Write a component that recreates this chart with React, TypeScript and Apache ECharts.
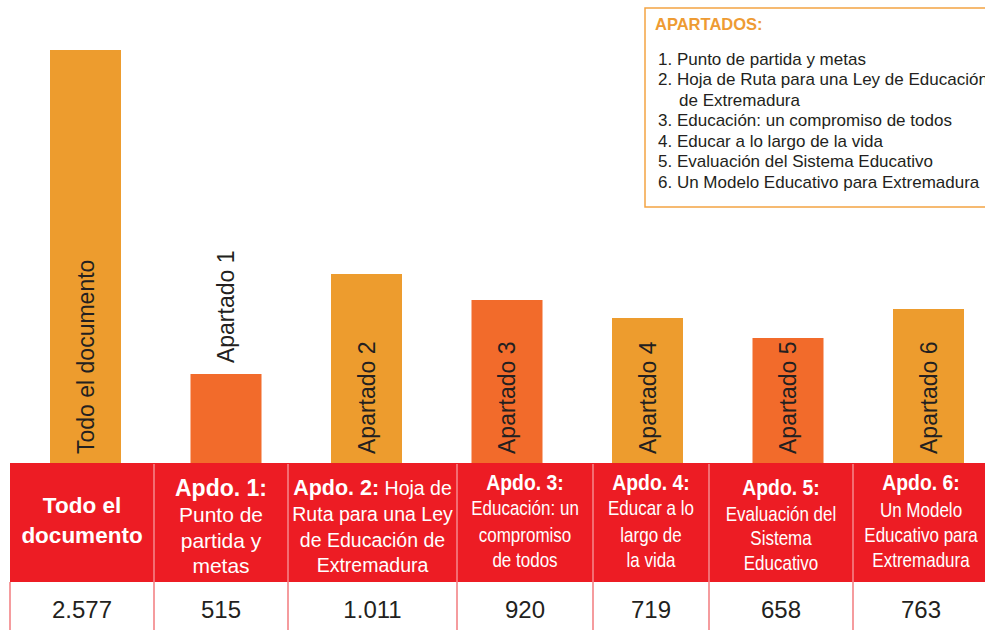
import React, { useEffect, useRef } from "react";
import * as echarts from "echarts";

// ---- data ----
const categories = [
  "Todo el documento",
  "Apartado 1",
  "Apartado 2",
  "Apartado 3",
  "Apartado 4",
  "Apartado 5",
  "Apartado 6",
];
// values printed in the table
const wordCounts = [2577, 515, 1011, 920, 719, 658, 763];
// bar heights as drawn in the reference (the original bars are not to scale)
const barHeights = [2577, 555, 1179, 1017, 905, 780, 961];

const headerLines = [
  ["**Todo el**", "**documento**"],
  ["**Apdo. 1:**", "Punto de", "partida y", "metas"],
  ["**Apdo. 2:** Hoja de", "Ruta para una Ley", "de Educación de", "Extremadura"],
  ["**Apdo. 3:**", "Educación: un", "compromiso", "de todos"],
  ["**Apdo. 4:**", "Educar a lo", "largo de", "la vida"],
  ["**Apdo. 5:**", "Evaluación del", "Sistema", "Educativo"],
  ["**Apdo. 6:**", "Un Modelo", "Educativo para", "Extremadura"],
];

const legendTitle = "APARTADOS:";
const legendLines = [
  "1. Punto de partida y metas",
  "2. Hoja de Ruta para una Ley de Educación",
  "de Extremadura",
  "3. Educación: un compromiso de todos",
  "4. Educar a lo largo de la vida",
  "5. Evaluación del Sistema Educativo",
  "6. Un Modelo Educativo para Extremadura",
];

// ---- style ----
const FONT = "'Liberation Sans', Arial, Helvetica, sans-serif";
const LIGHT = "#ED9C2E";
const DARK = "#F26B2B";
const RED = "#ED1C24";
const INK = "#231F20";

const colEdges = [10, 154, 288, 457, 593, 709, 853, 989];
const colLineY = [
  [505, 535],
  [488, 514, 540, 565],
  [488, 514, 540, 565],
  [482, 508, 535, 560],
  [482, 508, 535, 560],
  [487, 514, 538, 563],
  [482, 510, 535, 560],
];
// [bold size, bold scaleX, regular size, regular scaleX]
const colFont = [
  [22.5, 1, 22.5, 1],
  [23, 1, 21, 1],
  [21.5, 1, 19.5, 1],
  [22, 0.88, 21, 0.81],
  [22, 0.88, 21, 0.81],
  [22, 0.88, 21, 0.81],
  [22, 0.88, 21, 0.81],
];

function fmt(n: number): string {
  return String(n).replace(/\B(?=(\d{3})+(?!\d))/g, ".");
}

function toRich(line: string): { text: string; allBold: boolean } {
  const parts: string[] = [];
  const re = /\*\*(.+?)\*\*/g;
  let last = 0;
  let m: RegExpExecArray | null;
  let hasReg = false;
  while ((m = re.exec(line))) {
    if (m.index > last) {
      parts.push("{r|" + line.slice(last, m.index) + "}");
      hasReg = true;
    }
    parts.push("{b|" + m[1] + "}");
    last = m.index + m[0].length;
  }
  if (last < line.length) {
    parts.push("{r|" + line.slice(last) + "}");
    hasReg = true;
  }
  return { text: parts.join(""), allBold: !hasReg };
}

export default function App() {
  const ref = useRef<HTMLDivElement>(null);

  useEffect(() => {
    if (!ref.current) return;
    const chart = echarts.init(ref.current, undefined, { renderer: "svg" });

    const graphics: any[] = [];

    // header band
    graphics.push({
      type: "rect",
      shape: { x: colEdges[0], y: 463, width: 985 - colEdges[0] + 10, height: 119 },
      style: { fill: RED },
      z: 10,
    });
    // dividers
    for (let i = 0; i < colEdges.length - 1; i++) {
      const x = colEdges[i];
      if (i > 0) {
        graphics.push({
          type: "line",
          shape: { x1: x, y1: 464, x2: x, y2: 582 },
          style: { stroke: "rgba(255,255,255,0.6)", lineWidth: 1.2 },
          z: 11,
        });
      }
      graphics.push({
        type: "line",
        shape: { x1: x, y1: 582, x2: x, y2: 630 },
        style: { stroke: "#F27B7E", lineWidth: 1.5 },
        z: 11,
      });
    }
    // header texts
    headerLines.forEach((lines, c) => {
      const cx = (colEdges[c] + colEdges[c + 1]) / 2;
      const [bs, bsx, rs, rsx] = colFont[c];
      lines.forEach((line, li) => {
        const { text, allBold } = toRich(line);
        const sx = allBold ? bsx : rsx;
        graphics.push({
          type: "text",
          x: cx,
          y: colLineY[c][li],
          scaleX: sx,
          z: 12,
          style: {
            text,
            align: "center",
            verticalAlign: "middle",
            fill: "#fff",
            fontFamily: FONT,
            rich: {
              b: { fontWeight: "bold", fontSize: bs, fill: "#fff", fontFamily: FONT },
              r: { fontWeight: "normal", fontSize: rs, fill: "#fff", fontFamily: FONT },
            },
          },
        });
      });
      graphics.push({
        type: "text",
        x: cx,
        y: 609,
        z: 12,
        style: {
          text: fmt(wordCounts[c]),
          align: "center",
          verticalAlign: "middle",
          fill: INK,
          font: `24px ${FONT}`,
        },
      });
    });

    // legend box
    graphics.push({
      type: "rect",
      shape: { x: 645, y: 8, width: 360, height: 199 },
      style: { fill: "#fff", stroke: "#F4A443", lineWidth: 1.5 },
      z: 20,
    });
    graphics.push({
      type: "text",
      x: 655,
      y: 24,
      z: 21,
      style: {
        text: legendTitle,
        fill: "#EE9B33",
        font: `bold 16.5px ${FONT}`,
        verticalAlign: "middle",
      },
    });
    legendLines.forEach((t, i) => {
      graphics.push({
        type: "text",
        x: i === 2 ? 679 : 658,
        y: 59 + i * 20.5,
        z: 21,
        style: {
          text: t,
          fill: INK,
          font: `17px ${FONT}`,
          verticalAlign: "middle",
        },
      });
    });

    chart.setOption({
      animation: false,
      grid: { left: 85.5, top: 50, width: 843, height: 413 },
      xAxis: { type: "category", data: categories, show: false, boundaryGap: false },
      yAxis: { type: "value", min: 0, max: 2577, show: false },
      series: [
        {
          type: "bar",
          barWidth: 71,
          data: barHeights.map((v, i) => ({
            value: v,
            itemStyle: { color: i % 2 === 0 ? LIGHT : DARK },
            label: i === 1 ? { position: "top", distance: 11 } : undefined,
          })),
          label: {
            show: true,
            position: "insideBottom",
            distance: 9,
            rotate: 90,
            align: "left",
            verticalAlign: "middle",
            formatter: (p: any) => categories[p.dataIndex],
            fontSize: 23,
            fontFamily: FONT,
            color: INK,
          },
        },
      ],
      graphic: graphics,
    });

    return () => chart.dispose();
  }, []);

  return (
    <div
      ref={ref}
      style={{ position: "absolute", left: 0, top: 0, width: 985, height: 630, background: "#fff" }}
    />
  );
}
